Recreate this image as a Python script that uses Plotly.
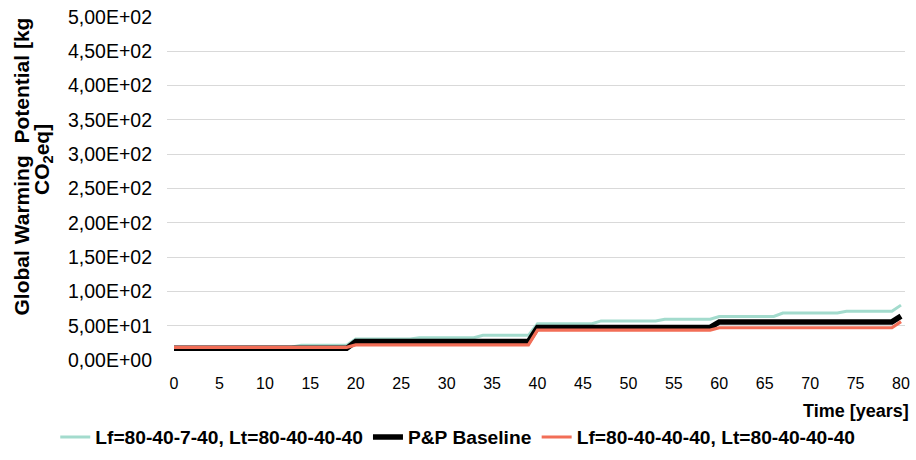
import plotly.graph_objects as go

years = list(range(0, 81))

lf_7 = [18, 18, 18, 18, 18, 18, 18,
        19, 19, 19, 19, 19, 19, 19,
        21.5, 21.5, 21.5, 21.5, 21.5, 21.5,
        30.5, 30.5, 30.5, 30.5, 30.5, 30.5, 30.5,
        32.5, 32.5, 32.5, 32.5, 32.5, 32.5, 32.5,
        36, 36, 36, 36, 36, 36,
        53, 53, 53, 53, 53, 53, 53,
        57, 57, 57, 57, 57, 57, 57,
        59.5, 59.5, 59.5, 59.5, 59.5, 59.5,
        63.5, 63.5, 63.5, 63.5, 63.5, 63.5, 63.5,
        68.5, 68.5, 68.5, 68.5, 68.5, 68.5, 68.5,
        71, 71, 71, 71, 71, 71,
        80]

baseline = [17, 17, 17, 17, 17, 17, 17, 17, 17, 17,
            17, 17, 17, 17, 17, 17, 17, 17, 17, 17,
            27, 27, 27, 27, 27, 27, 27, 27, 27, 27,
            27, 27, 27, 27, 27, 27, 27, 27, 27, 27,
            47.5, 47.5, 47.5, 47.5, 47.5, 47.5, 47.5, 47.5, 47.5, 47.5,
            47.5, 47.5, 47.5, 47.5, 47.5, 47.5, 47.5, 47.5, 47.5, 47.5,
            55.5, 55.5, 55.5, 55.5, 55.5, 55.5, 55.5, 55.5, 55.5, 55.5,
            55.5, 55.5, 55.5, 55.5, 55.5, 55.5, 55.5, 55.5, 55.5, 55.5,
            64]

lf_40 = [18.5, 18.5, 18.5, 18.5, 18.5, 18.5, 18.5, 18.5, 18.5, 18.5,
         18.5, 18.5, 18.5, 18.5, 18.5, 18.5, 18.5, 18.5, 18.5, 18.5,
         22, 22, 22, 22, 22, 22, 22, 22, 22, 22,
         22, 22, 22, 22, 22, 22, 22, 22, 22, 22,
         43.5, 43.5, 43.5, 43.5, 43.5, 43.5, 43.5, 43.5, 43.5, 43.5,
         43.5, 43.5, 43.5, 43.5, 43.5, 43.5, 43.5, 43.5, 43.5, 43.5,
         47, 47, 47, 47, 47, 47, 47, 47, 47, 47,
         47, 47, 47, 47, 47, 47, 47, 47, 47, 47,
         56]

series_names = ["Lf=80-40-7-40, Lt=80-40-40-40",
                "P&P Baseline",
                "Lf=80-40-40-40, Lt=80-40-40-40"]

x_tick_vals = [0, 5, 10, 15, 20, 25, 30, 35, 40, 45, 50, 55, 60, 65, 70, 75, 80]
y_tick_vals = [0, 50, 100, 150, 200, 250, 300, 350, 400, 450, 500]
y_tick_labels = ["0,00E+00", "5,00E+01", "1,00E+02", "1,50E+02", "2,00E+02",
                 "2,50E+02", "3,00E+02", "3,50E+02", "4,00E+02", "4,50E+02",
                 "5,00E+02"]

FONT = "Liberation Sans, Arial, sans-serif"

fig = go.Figure()
fig.add_trace(go.Scatter(x=years, y=lf_7, mode="lines", name=series_names[0],
                         line=dict(color="#A3DBCD", width=3)))
fig.add_trace(go.Scatter(x=years, y=baseline, mode="lines", name=series_names[1],
                         line=dict(color="#000000", width=5.5)))
fig.add_trace(go.Scatter(x=years, y=lf_40, mode="lines", name=series_names[2],
                         line=dict(color="#F26E57", width=3.2)))

fig.update_layout(
    width=916, height=460,
    margin=dict(l=167, r=11, t=17, b=100, autoexpand=False),
    plot_bgcolor="white", paper_bgcolor="white",
    font=dict(family=FONT, color="#000000"),
    showlegend=True,
    legend=dict(orientation="h", xref="paper", yref="paper",
                x=-0.1514, xanchor="left", y=-0.2245, yanchor="middle",
                font=dict(family=FONT, size=19.2, color="#000000", weight="bold"),
                itemwidth=30, tracegroupgap=0),
    xaxis=dict(range=[-0.77, 80.44], tickvals=x_tick_vals,
               showgrid=False, zeroline=False, showline=False, ticks="",
               tickfont=dict(family=FONT, size=16, color="#000000"),
               ticklabelstandoff=12),
    yaxis=dict(range=[0, 500], tickvals=y_tick_vals, ticktext=y_tick_labels,
               showgrid=True, gridcolor="#D9D9D9", gridwidth=1,
               zeroline=False, showline=False, ticks="",
               tickfont=dict(family=FONT, size=19.5, color="#000000"),
               ticklabelstandoff=14),
)

fig.add_annotation(text="Time [years]", xref="paper", yref="paper",
                   x=1.008, y=-0.115, xanchor="right", yanchor="top",
                   showarrow=False,
                   font=dict(family=FONT, size=18, color="#000000", weight="bold"))

fig.add_annotation(text="Global Warming  Potential [kg",
                   xref="paper", yref="paper",
                   x=(21 - 167) / 738, y=(360 - 166.5) / 343,
                   xanchor="center", yanchor="middle",
                   textangle=-90, showarrow=False,
                   font=dict(family=FONT, size=21, color="#000000", weight="bold"))
fig.add_annotation(text="CO<sub>2</sub>eq]",
                   xref="paper", yref="paper",
                   x=(43 - 167) / 738, y=(360 - 160) / 343,
                   xanchor="center", yanchor="middle",
                   textangle=-90, showarrow=False,
                   font=dict(family=FONT, size=21, color="#000000", weight="bold"))

fig.write_html("out.html", config={"displayModeBar": False},
               post_script="document.body.style.margin='0';")
